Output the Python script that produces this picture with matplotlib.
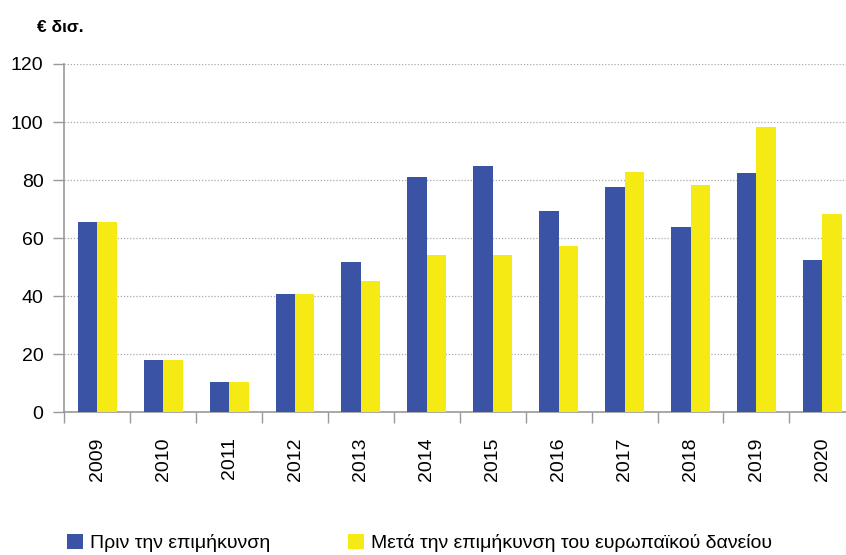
import matplotlib.pyplot as plt
import numpy as np

years = ['2009', '2010', '2011', '2012', '2013', '2014', '2015', '2016',
         '2017', '2018', '2019', '2020']
before = [65.6, 18.0, 10.4, 40.8, 51.8, 81.0, 84.8, 69.3, 77.6, 63.8, 82.4, 52.4]
after = [65.6, 18.0, 10.4, 40.8, 45.3, 54.1, 54.1, 57.2, 82.8, 78.3, 98.3, 68.3]
yticks = [0, 20, 40, 60, 80, 100, 120]

label_before = 'Πριν την επιμήκυνση'
label_after = 'Μετά την επιμήκυνση του ευρωπαϊκού δανείου'

plt.rcParams['font.family'] = ['Liberation Sans', 'DejaVu Sans']

BLUE = '#3A53A4'
YELLOW = '#F5EA14'
GREY = '#999999'

fig = plt.figure(figsize=(8.46, 5.55), dpi=100)
ax = fig.add_axes([64.3 / 846, 142.7 / 555, 791 / 846, 348.3 / 555])

x = np.arange(len(years))
w = 0.295
b1 = ax.bar(x - w / 2, before, w, color=BLUE, label=label_before, zorder=3)
b2 = ax.bar(x + w / 2, after, w, color=YELLOW, label=label_after, zorder=3)

ax.set_xlim(-0.5, len(years) - 0.5)
ax.set_ylim(0, 120)

# y axis
ax.set_yticks(yticks)
ax.tick_params(axis='y', length=8, width=1, color=GREY, pad=7, labelsize=14)
ax.yaxis.grid(True, linestyle=(0, (1, 1.5)), color='#aaaaaa', linewidth=0.9, zorder=0)

# x axis: boundary ticks as major, labels on minor ticks at category centres
ax.set_xticks(np.arange(len(years) + 1) - 0.5)
ax.set_xticklabels([])
ax.set_xticks(x, minor=True)
ax.set_xticklabels(years, minor=True, rotation=90, fontsize=14)
ax.tick_params(axis='x', which='major', length=8, width=1, color=GREY)
ax.tick_params(axis='x', which='minor', length=0, pad=18)

for s in ['top', 'right']:
    ax.spines[s].set_visible(False)
for s in ['left', 'bottom']:
    ax.spines[s].set_color(GREY)
    ax.spines[s].set_linewidth(1.2)

fig.text(37 / 846, 1 - 32.3 / 555, '€ δισ.', fontsize=12.5, fontweight='bold',
         va='baseline', ha='left')

fig.legend(handles=[b1, b2], loc='center left',
           bbox_to_anchor=(66.7 / 846, 1 - 543 / 555), ncol=2, frameon=False,
           fontsize=14, handlelength=0.82, handleheight=0.82,
           handletextpad=0.36, columnspacing=4.03, borderpad=0,
           borderaxespad=0)

fig.savefig('out.png', dpi=100)
